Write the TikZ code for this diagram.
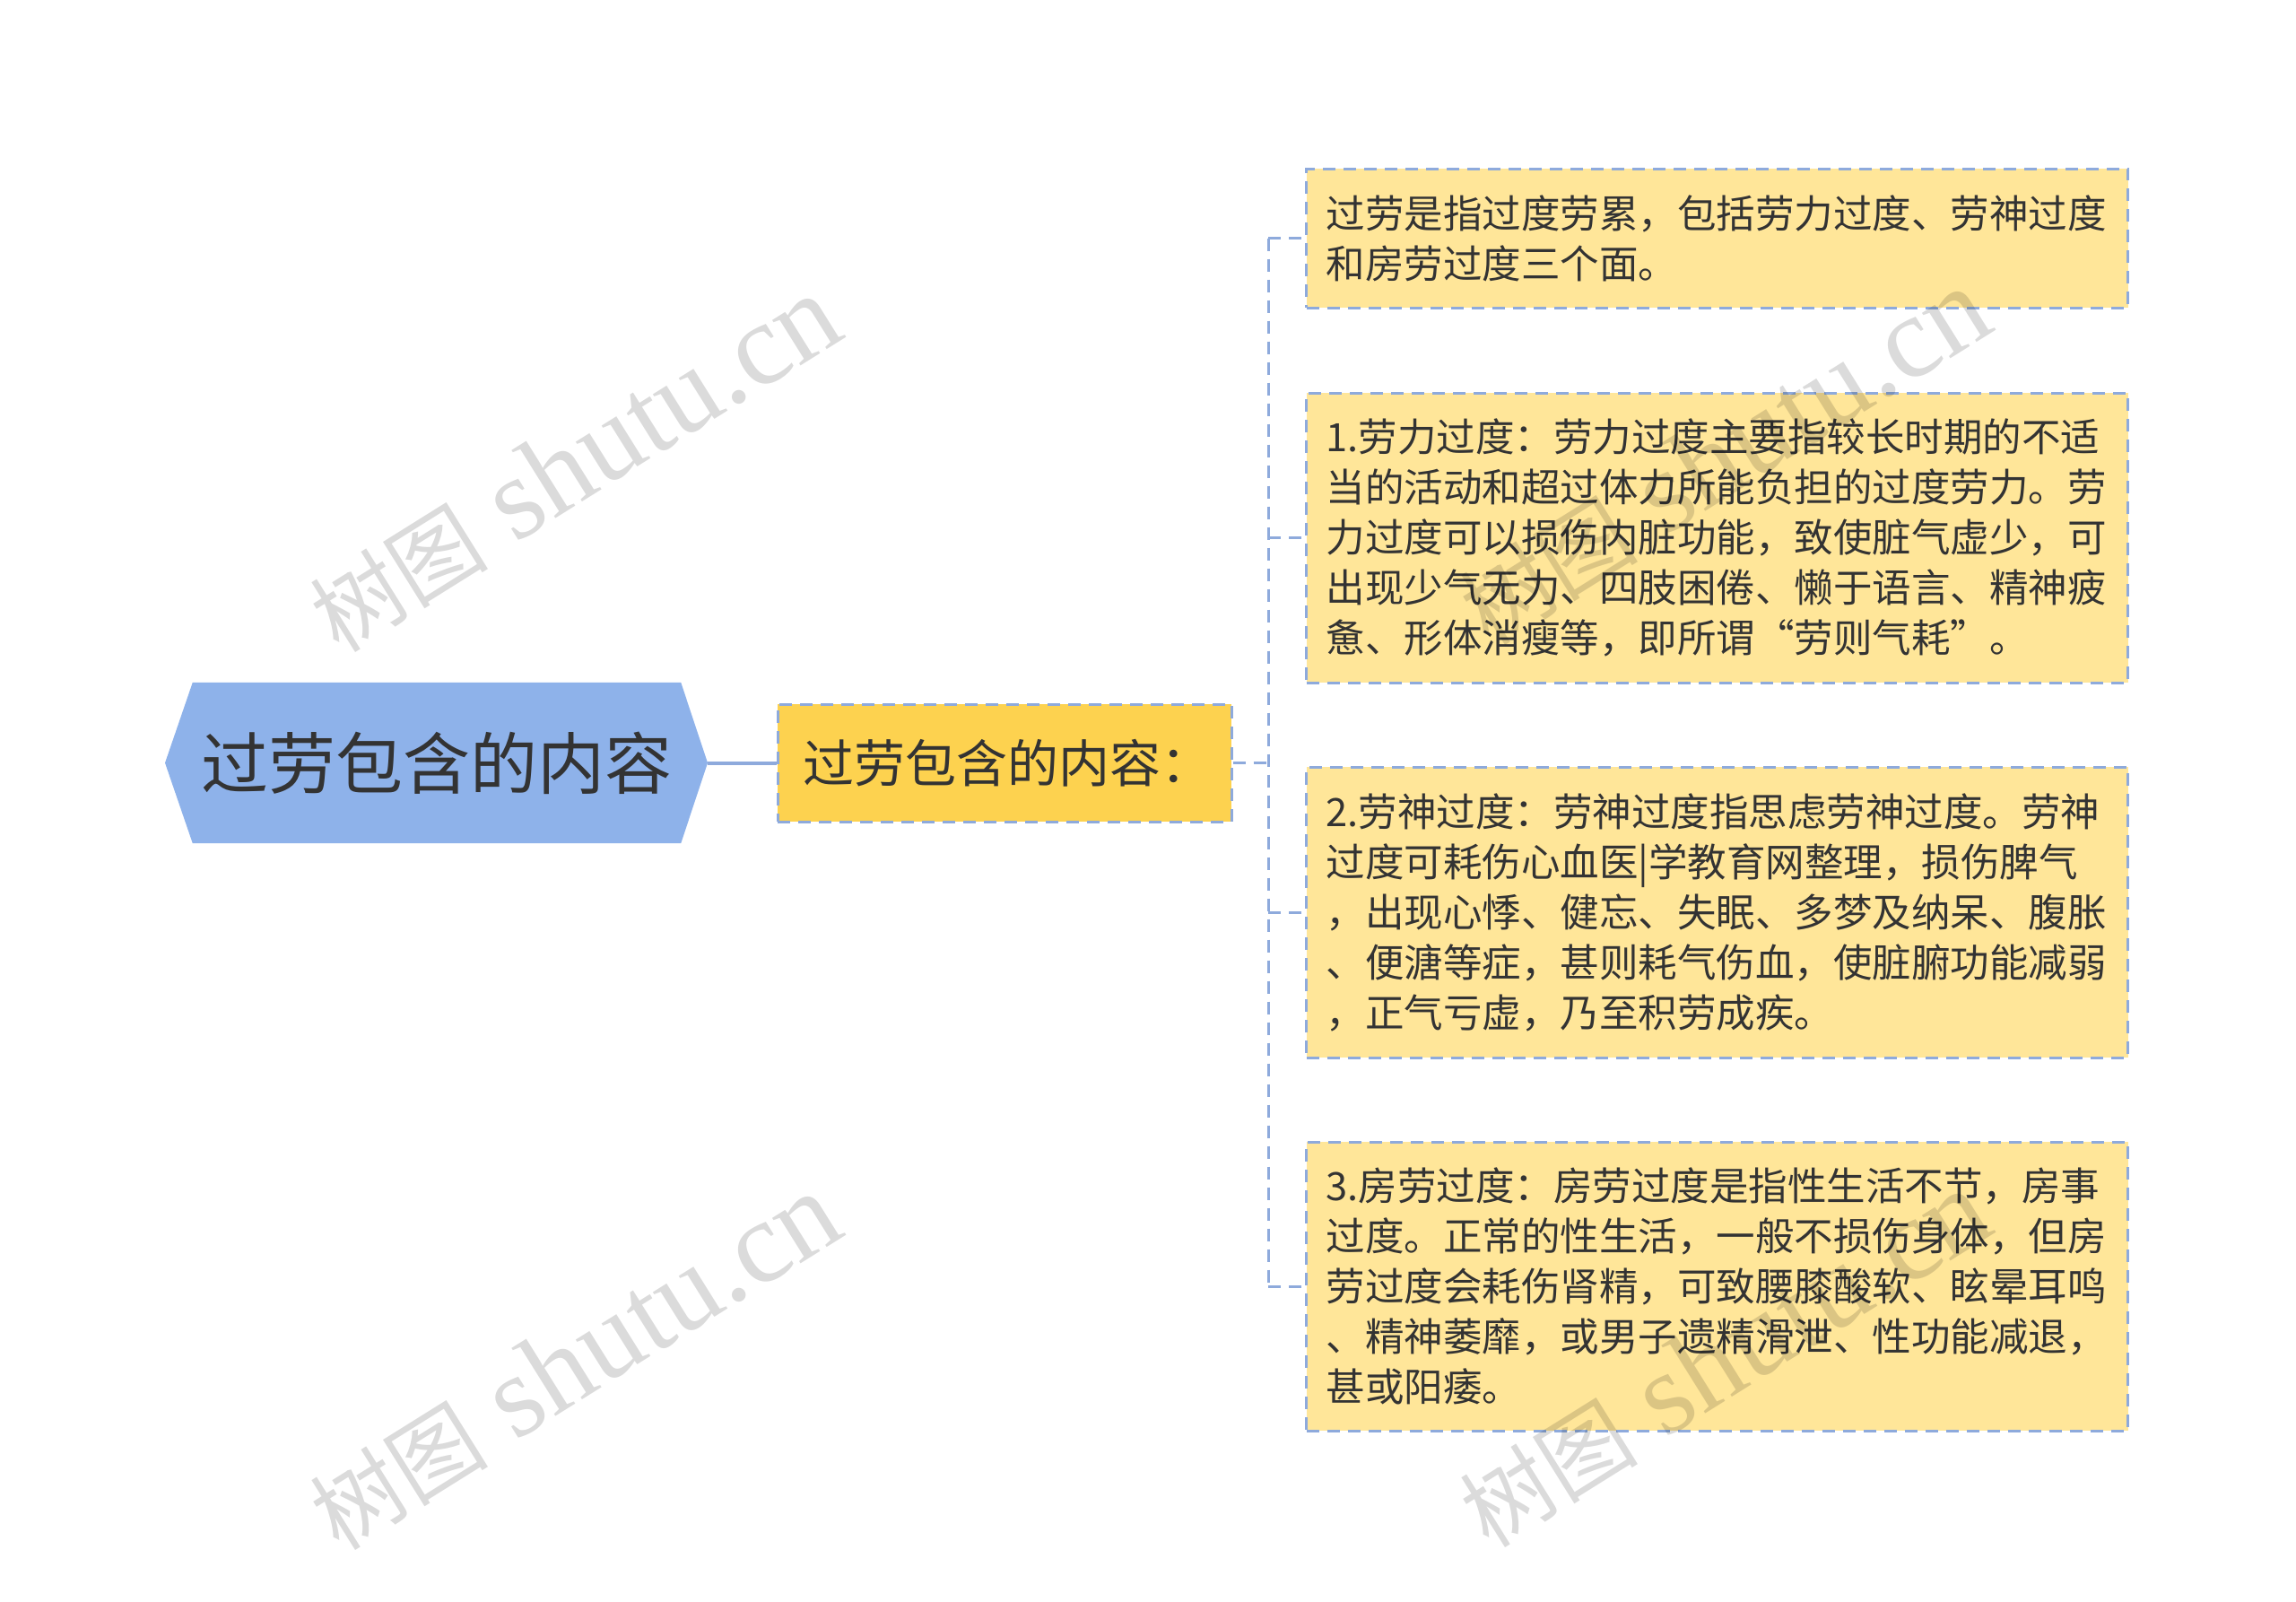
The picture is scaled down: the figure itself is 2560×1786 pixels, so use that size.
\documentclass[tikz,border=0pt]{standalone}
\usepackage{fontspec}
\newfontfamily\cjk{Noto Sans CJK SC}
\newfontfamily\wmlat{Liberation Serif}
\definecolor{rootblue}{HTML}{8EB2EA}
\definecolor{midyellow}{HTML}{FDD24F}
\definecolor{leafyellow}{HTML}{FFE699}
\definecolor{lineblue}{HTML}{8EAADC}
\definecolor{textgray}{HTML}{333333}
\newcommand{\wmtext}{{\cjk\fontsize{100}{100}\selectfont 树图}\hspace{32pt}{\wmlat\fontsize{130}{130}\selectfont shutu.cn}}
\begin{document}
\begin{tikzpicture}[x=1pt,y=-1pt,
  leafbox/.style={draw=lineblue, dash pattern=on 14pt off 9pt, line width=3pt,
    fill=leafyellow, text width=872pt, inner xsep=22pt, inner ysep=0pt,
    align=left, font=\cjk\fontsize{43.5}{56}\selectfont, text=textgray, anchor=west},
  midbox/.style={draw=lineblue, dash pattern=on 14pt off 9pt, line width=3pt,
    fill=midyellow, minimum width=506pt, minimum height=131pt, inner sep=0pt,
    font=\cjk\fontsize{57}{68}\selectfont, text=textgray},
  conn/.style={draw=lineblue, line width=3pt, dash pattern=on 14pt off 9pt},
  wmark/.style={rotate=32, text=black, opacity=0.14, inner sep=0pt},
]
\useasboundingbox (0,0) rectangle (2560,1786);
\fill[white] (0,0) rectangle (2560,1786);

% root hexagon
\node[minimum width=544pt, minimum height=179pt, inner sep=0pt] (root) at (487,850.5) {};
\fill[rootblue] (184,850.5) -- (root.north west) -- (root.north east) -- (789,850.5)
  -- (root.south east) -- (root.south west) -- cycle;
\coordinate (roottip) at (789,850.5);
\node[font=\cjk\fontsize{75}{90}\selectfont, text=textgray] (roottext) at (487,850.5) {过劳包含的内容};

% middle node
\node[midbox, align=left, text width=450pt] (mid) at (1120,850.5) {过劳包含的内容：};

% leaves
\node[leafbox, minimum height=155pt] (l1) at (1455,265.5)
 {过劳是指过度劳累，包括劳力过度、劳神过度\\和房劳过度三个面。};
\node[leafbox, minimum height=323pt] (l2) at (1455,599.5)
 {1.劳力过度：劳力过度主要指较长时期的不适\\当的活动和超过体力所能负担的过度劳力。劳\\力过度可以损伤内脏功能，致使脏气虚少，可\\出现少气无力、四肢困倦、懒于语言、精神疲\\惫、形体消瘦等，即所谓“劳则气耗”。};
\node[leafbox, minimum height=324pt] (l3) at (1455,1017)
 {2.劳神过度：劳神过度指思虑劳神过度。劳神\\过度可耗伤心血医|学教育网整理，损伤脾气\\，出现心悸、健忘、失眠、多梦及纳呆、腹胀\\、便溏等症，甚则耗气伤血，使脏腑功能减弱\\，正气亏虚，乃至积劳成疾。};
\node[leafbox, minimum height=322pt] (l4) at (1455,1434)
 {3.房劳过度：房劳过度是指性生活不节，房事\\过度。正常的性生活，一般不损伤身体，但房\\劳过度会耗伤肾精，可致腰膝酸软、眩晕耳鸣\\、精神萎靡，或男子遗精滑泄、性功能减退，\\甚或阳痿。};

% connectors
\draw[draw=lineblue, line width=4pt] (roottip) -- (mid.west);
\coordinate (junction) at (1414,850.5);
\coordinate (vtop) at (1414,265.5);
\coordinate (vbot) at (1414,1434);
\draw[conn] (mid.east) -- (junction);
\draw[conn] (vtop) -- (vbot);
\draw[conn] (vtop) -- (l1.west);
\draw[conn] (1414,599.5) -- (l2.west);
\draw[conn] (1414,1017) -- (l3.west);
\draw[conn] (vbot) -- (l4.west);

% watermarks
\node[wmark] (wm1) at (640,517) {\wmtext};
\node[wmark] (wm2) at (640,1518) {\wmtext};
\node[wmark] (wm3) at (1922,509) {\wmtext};
\node[wmark] (wm4) at (1922,1515) {\wmtext};
\end{tikzpicture}
\end{document}
